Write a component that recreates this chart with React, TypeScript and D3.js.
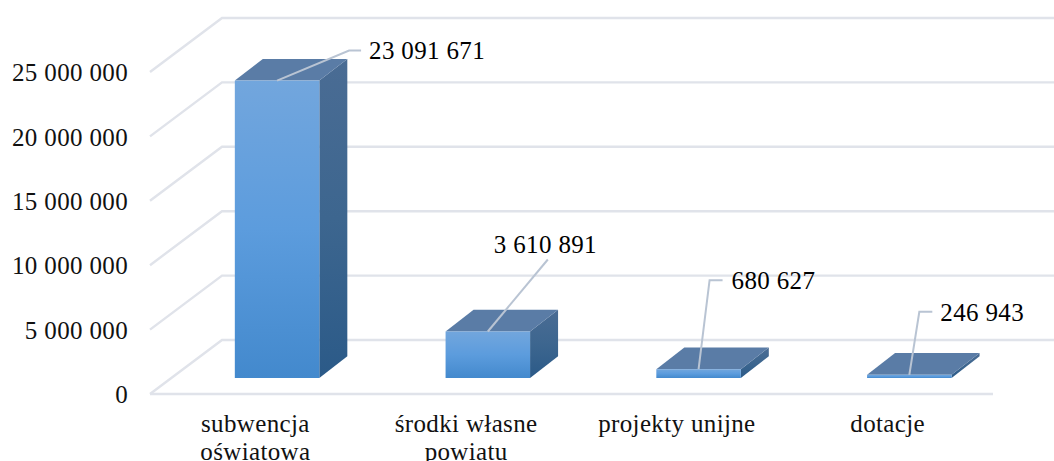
import React, { useEffect, useRef } from 'react'
import * as d3 from 'd3'

const categories = [['subwencja', 'oświatowa'], ['środki własne', 'powiatu'], ['projekty unijne'], ['dotacje']]
const values = [23091671, 3610891, 680627, 246943]
const valueLabels = ['23 091 671', '3 610 891', '680 627', '246 943']
const yTicks = [0, 5000000, 10000000, 15000000, 20000000, 25000000]
const yTickLabels = ['0', '5 000 000', '10 000 000', '15 000 000', '20 000 000', '25 000 000']

// leader lines: elbow point relative to the bar top, and length of the flat part
const leaderElbows = [[72, -30, 12], [60, -72, 0], [11, -89, 13], [10, -63, 13]]
const labelNudge = [[8, 0], [-54, -15], [9, 1], [8, 1]]

const WIDTH = 1054
const HEIGHT = 461
const FONT = '"Liberation Serif", serif'
const FONT_SIZE = 25
const TRACKING = 0.35

const App = () => {
    const ref = useRef<SVGSVGElement>(null)

    useEffect(() => {
        const svg = d3.select(ref.current)
        svg.selectAll('*').remove()

        const depth = { x: 72, y: -54 }
        const barDepth = { x: 28, y: -21.7 }
        const barLift = { x: 21.7, y: -16 }

        const x = d3.scaleBand<number>().domain(d3.range(categories.length)).range([150, 993]).padding(0)
        const y = d3.scaleLinear().domain([0, 25000000]).range([394, 72])
        const barWidth = 84.5

        // Gradients
        const defs = svg.append('defs')
        const gradient = (id: string, stops: string[]) => {
            const g = defs.append('linearGradient').attr('id', id).attr('x1', 0).attr('y1', 0).attr('x2', 0).attr('y2', 1)
            stops.forEach((c, i) => g.append('stop').attr('offset', i / (stops.length - 1)).attr('stop-color', c))
        }
        gradient('front', ['#72a6dd', '#5c9cdd', '#4389cd'])
        gradient('side', ['#4a6c94', '#3d668f', '#2b5a88'])

        // Grid: floor front, left diagonals, back wall
        const grid = svg.append('g').attr('fill', 'none').attr('stroke', '#e0e3ea').attr('stroke-width', 2.4)
        yTicks.forEach(t => {
            grid.append('path').attr('d', d3.line()([
                [150, y(t)],
                [150 + depth.x, y(t) + depth.y],
                [1065, y(t) + depth.y],
            ]))
        })
        grid.append('line').attr('x1', 150).attr('x2', 993).attr('y1', y(0)).attr('y2', y(0))

        // Bars
        values.forEach((v, i) => {
            const x0 = x(i)! + (x.bandwidth() - barWidth) / 2 + barLift.x
            const x1 = x0 + barWidth
            const bottom = y(0) + barLift.y
            const top = y(v) + barLift.y
            const g = svg.append('g')

            g.append('path')
                .attr('d', d3.line()([[x1, top], [x1 + barDepth.x, top + barDepth.y], [x1 + barDepth.x, bottom + barDepth.y], [x1, bottom]]) + 'Z')
                .attr('fill', 'url(#side)')
            g.append('path')
                .attr('d', d3.line()([[x0, top], [x0 + barDepth.x, top + barDepth.y], [x1 + barDepth.x, top + barDepth.y], [x1, top]]) + 'Z')
                .attr('fill', '#5a7ca6')
            g.append('rect')
                .attr('x', x0)
                .attr('y', top)
                .attr('width', barWidth)
                .attr('height', bottom - top)
                .attr('fill', 'url(#front)')

            // Leader line and value label
            const cx = (x0 + x1) / 2
            const [dx, dy, flat] = leaderElbows[i]
            const ex = cx + dx
            const ey = top + dy
            g.append('path')
                .attr('d', d3.line()([[cx, top], [ex, ey], [ex + flat, ey]]))
                .attr('fill', 'none')
                .attr('stroke', '#b9c4d3')
                .attr('stroke-width', 2)
            g.append('text')
                .attr('x', ex + flat + labelNudge[i][0])
                .attr('y', ey + labelNudge[i][1])
                .attr('dy', '0.33em')
                .attr('font-family', FONT)
                .attr('font-size', FONT_SIZE)
                .attr('letter-spacing', TRACKING)
                .attr('fill', '#000')
                .text(valueLabels[i])
        })

        // Y axis labels
        svg.append('g')
            .selectAll('text')
            .data(yTicks)
            .join('text')
            .attr('x', 128)
            .attr('y', d => y(d))
            .attr('dy', '0.37em')
            .attr('text-anchor', 'end')
            .attr('font-family', FONT)
            .attr('font-size', FONT_SIZE)
            .attr('letter-spacing', TRACKING)
            .attr('fill', '#111')
            .text((d, i) => yTickLabels[i])

        // Category labels
        categories.forEach((lines, i) => {
            const t = svg.append('text')
                .attr('text-anchor', 'middle')
                .attr('font-family', FONT)
                .attr('font-size', FONT_SIZE)
                .attr('letter-spacing', TRACKING)
                .attr('fill', '#111')
            lines.forEach((line, k) => {
                t.append('tspan')
                    .attr('x', x(i)! + x.bandwidth() / 2)
                    .attr('y', 432 + k * 27.5)
                    .text(line)
            })
        })
    }, [])

    return (
        <svg
            ref={ref}
            width={WIDTH}
            height={HEIGHT}
            style={{ position: 'absolute', left: 0, top: 0, background: '#fff' }}
        />
    )
}

export default App
